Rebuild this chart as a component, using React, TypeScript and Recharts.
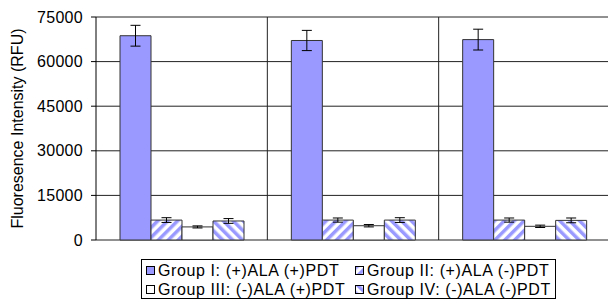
import React from 'react';
import {
  BarChart,
  Bar,
  ErrorBar,
  XAxis,
  YAxis,
  CartesianGrid,
  Legend,
  Label,
} from 'recharts';

// three measurement sets, no labels on the x axis in the original
const categories = ['Set 1', 'Set 2', 'Set 3'];

const groupI = [68700, 67100, 67400];
const groupIErr = [3500, 3400, 3500];
const groupII = [6700, 6700, 6700];
const groupIIErr = [800, 700, 700];
const groupIII = [4400, 4800, 4600];
const groupIIIErr = [350, 400, 400];
const groupIV = [6400, 6700, 6600];
const groupIVErr = [800, 800, 800];

const yTicks = [0, 15000, 30000, 45000, 60000, 75000];

const seriesNames = [
  'Group I: (+)ALA (+)PDT',
  'Group II: (+)ALA (-)PDT',
  'Group III: (-)ALA (+)PDT',
  'Group IV: (-)ALA (-)PDT',
];

const FONT = '"Liberation Sans", Arial, sans-serif';
const BLUE = '#9999FF';

const data = categories.map((name, i) => ({
  name,
  g1: groupI[i],
  g1e: groupIErr[i],
  g2: groupII[i],
  g2e: groupIIErr[i],
  g3: groupIII[i],
  g3e: groupIIIErr[i],
  g4: groupIV[i],
  g4e: groupIVErr[i],
}));

const LegendBox = ({ payload }: any) => {
  const items = payload || [];
  return (
    <div
      style={{
        border: '1px solid #000',
        background: '#fff',
        width: 415,
        height: 40,
        boxSizing: 'border-box',
        padding: '1px 0 0 4px',
        display: 'grid',
        gridTemplateColumns: '209px 200px',
        fontFamily: FONT,
        fontSize: 16,
        letterSpacing: 0.6,
        color: '#000',
        lineHeight: '19px',
        textAlign: 'left',
      }}
    >
      {items.map((entry: any) => (
        <div key={entry.value} style={{ whiteSpace: 'nowrap', height: 19 }}>
          <svg width={9} height={9} style={{ marginRight: 3, verticalAlign: 'middle', marginTop: -3 }}>
            <rect x={0.5} y={0.5} width={8} height={8} fill={entry.color} stroke="#000" strokeWidth={1} />
          </svg>
          {entry.value}
        </div>
      ))}
    </div>
  );
};

export default function App() {
  return (
    <div
      style={{
        position: 'absolute',
        left: 0,
        top: 0,
        width: 608,
        height: 301,
        overflow: 'hidden',
        background: '#fff',
      }}
    >
      <BarChart
        width={611}
        height={301}
        data={data}
        margin={{ top: 17, right: 1, bottom: 61, left: 0 }}
        barCategoryGap={24}
        barGap={0}
      >
        <defs>
          <pattern id="stripeUp" patternUnits="userSpaceOnUse" width={7} height={7} patternTransform="rotate(45)">
            <rect x={0} y={0} width={7} height={7} fill="#fff" />
            <rect x={0} y={0} width={3.5} height={7} fill={BLUE} />
          </pattern>
          <pattern id="stripeDown" patternUnits="userSpaceOnUse" width={7} height={7} patternTransform="rotate(-45)">
            <rect x={0} y={0} width={7} height={7} fill="#fff" />
            <rect x={0} y={0} width={3.5} height={7} fill={BLUE} />
          </pattern>
        </defs>
        <CartesianGrid
          stroke="#222"
          verticalCoordinatesGenerator={({ offset }: any) => [
            offset.left + offset.width / 3,
            offset.left + (2 * offset.width) / 3,
          ]}
        />
        <XAxis dataKey="name" tick={false} tickLine={false} height={0} axisLine={{ stroke: '#000' }} />
        <YAxis
          width={96}
          domain={[0, 75000]}
          ticks={yTicks}
          interval={0}
          tickSize={5}
          tickMargin={8}
          tickLine={{ stroke: '#000' }}
          axisLine={{ stroke: '#000' }}
          tick={{ fontSize: 16, fill: '#000', fontFamily: FONT, letterSpacing: 0.3 }}
        >
          <Label
            content={({ viewBox }: any) => {
              const cy = viewBox.y + viewBox.height / 2;
              return (
                <text
                  x={23}
                  y={cy}
                  transform={`rotate(-90, 23, ${cy})`}
                  textAnchor="middle"
                  fontSize={16}
                  fontFamily={FONT}
                  fill="#000"
                >
                  Fluoresence Intensity (RFU)
                </text>
              );
            }}
          />
        </YAxis>
        <Legend
          layout="horizontal"
          verticalAlign="middle"
          align="center"
          wrapperStyle={{ left: 141, top: 259, width: 415 }}
          content={<LegendBox />}
        />
        <Bar dataKey="g1" name={seriesNames[0]} fill={BLUE} stroke="#333" strokeWidth={1} isAnimationActive={false}>
          <ErrorBar dataKey="g1e" width={5} stroke="#000" strokeWidth={1} />
        </Bar>
        <Bar dataKey="g2" name={seriesNames[1]} fill="url(#stripeUp)" stroke="#333" strokeWidth={1} isAnimationActive={false}>
          <ErrorBar dataKey="g2e" width={5} stroke="#000" strokeWidth={1} />
        </Bar>
        <Bar dataKey="g3" name={seriesNames[2]} fill="#fff" stroke="#333" strokeWidth={1} isAnimationActive={false}>
          <ErrorBar dataKey="g3e" width={5} stroke="#000" strokeWidth={1} />
        </Bar>
        <Bar dataKey="g4" name={seriesNames[3]} fill="url(#stripeDown)" stroke="#333" strokeWidth={1} isAnimationActive={false}>
          <ErrorBar dataKey="g4e" width={5} stroke="#000" strokeWidth={1} />
        </Bar>
      </BarChart>
    </div>
  );
}
